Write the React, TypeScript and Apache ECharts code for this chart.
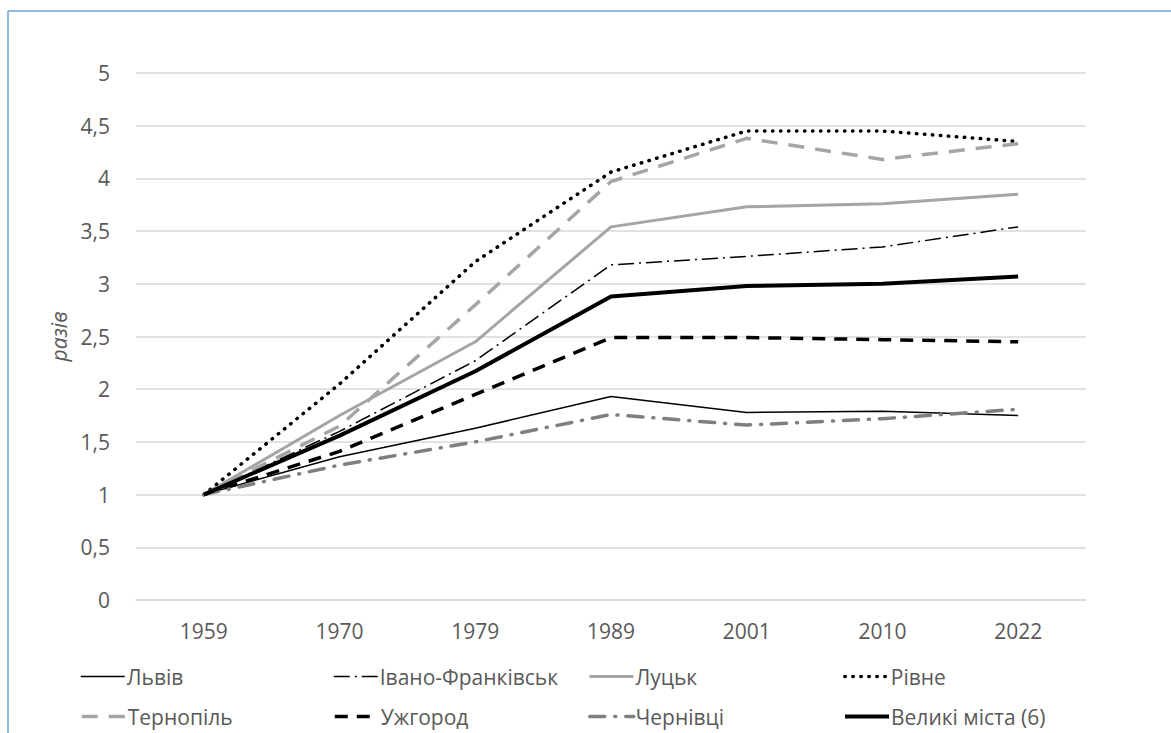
import React, { useEffect, useRef } from "react";
import * as echarts from "echarts";

const years = ["1959", "1970", "1979", "1989", "2001", "2010", "2022"];
const lviv = [1, 1.36, 1.63, 1.93, 1.78, 1.79, 1.75];
const ivanoFrankivsk = [1, 1.6, 2.27, 3.18, 3.26, 3.35, 3.54];
const lutsk = [1, 1.75, 2.45, 3.54, 3.73, 3.76, 3.85];
const rivne = [1, 2.05, 3.21, 4.06, 4.45, 4.45, 4.35];
const ternopil = [1, 1.65, 2.8, 3.97, 4.38, 4.18, 4.33];
const uzhhorod = [1, 1.41, 1.95, 2.49, 2.49, 2.47, 2.45];
const chernivtsi = [1, 1.28, 1.5, 1.76, 1.66, 1.72, 1.81];
const bigCities = [1, 1.56, 2.17, 2.88, 2.98, 3.0, 3.07];

const seriesNames = [
  "Львів",
  "Івано-Франківськ",
  "Луцьк",
  "Рівне",
  "Тернопіль",
  "Ужгород",
  "Чернівці",
  "Великі міста (6)",
];
const seriesData = [lviv, ivanoFrankivsk, lutsk, rivne, ternopil, uzhhorod, chernivtsi, bigCities];

const styles: any[] = [
  { color: "#000000", width: 1.5, type: "solid" },
  { color: "#000000", width: 1.5, type: [16, 5, 2, 5] },
  { color: "#A5A5A5", width: 3, type: "solid" },
  { color: "#000000", width: 3.5, type: [0.5, 7.5], cap: "round" },
  { color: "#A5A5A5", width: 3.5, type: [16, 11] },
  { color: "#000000", width: 3.5, type: [13, 9] },
  { color: "#7F7F7F", width: 3.5, type: [15, 10, 1, 10], cap: "round" },
  { color: "#000000", width: 4, type: "solid" },
];

const legendCols = [80, 333, 588, 843];
const legendRows = [666, 706];

export default function App() {
  const ref = useRef<HTMLDivElement>(null);
  useEffect(() => {
    document.body.style.margin = "0";
    const chart = echarts.init(ref.current!, null, { renderer: "svg" });
    const font = "'Open Sans', sans-serif";
    const legends = seriesNames.map((name, i) => ({
      data: [
        {
          name,
          itemStyle: { opacity: 0 },
          lineStyle: {
            color: styles[i].color,
            width: styles[i].width,
            type: styles[i].type,
            cap: styles[i].cap || "butt",
            opacity: 1,
          },
        },
      ],
      left: legendCols[i % 4],
      top: legendRows[Math.floor(i / 4)],
      padding: 0,
      itemWidth: 44,
      itemHeight: 14,
      itemGap: 0,
      selectedMode: false,
      textStyle: { fontFamily: font, fontSize: 21, color: "#595959", padding: [0, 0, 0, -3] },
    }));
    chart.setOption({
      animation: false,
      backgroundColor: "#ffffff",
      grid: { left: 136, right: 85, top: 73, bottom: 133, containLabel: false },
      legend: legends,
      xAxis: {
        type: "category",
        data: years,
        boundaryGap: true,
        axisLine: { show: true, lineStyle: { color: "#D9D9D9", width: 1.5 } },
        axisTick: { show: false },
        axisLabel: { fontFamily: font, fontSize: 21, color: "#595959", margin: 20 },
      },
      yAxis: {
        type: "value",
        min: 0,
        max: 5,
        interval: 0.5,
        name: "разів",
        nameLocation: "middle",
        nameRotate: 90,
        nameGap: 66,
        nameTextStyle: { fontFamily: font, fontSize: 21, fontStyle: "italic", color: "#595959" },
        axisLine: { show: false },
        axisTick: { show: false },
        splitLine: { lineStyle: { color: "#D9D9D9", width: 1.5 } },
        axisLabel: {
          fontFamily: font,
          fontSize: 21,
          color: "#595959",
          margin: 26,
          formatter: (v: number) => String(v).replace(".", ","),
        },
      },
      graphic: [
        { type: "line", shape: { x1: 8, y1: 11, x2: 8, y2: 733 }, style: { stroke: "#6FA3DA", lineWidth: 1.5 } },
        { type: "line", shape: { x1: 8, y1: 11, x2: 1171, y2: 11 }, style: { stroke: "#6FA3DA", lineWidth: 1.5 } },
      ],
      series: seriesNames.map((name, i) => ({
        name,
        type: "line",
        data: seriesData[i],
        symbol: "none",
        showSymbol: false,
        z: i === 7 ? 10 : 2 + i,
        lineStyle: {
          color: styles[i].color,
          width: styles[i].width,
          type: styles[i].type,
          cap: styles[i].cap || "butt",
        },
        itemStyle: { color: styles[i].color },
      })),
    });
    return () => chart.dispose();
  }, []);
  return <div ref={ref} style={{ width: 1171, height: 733 }} />;
}
